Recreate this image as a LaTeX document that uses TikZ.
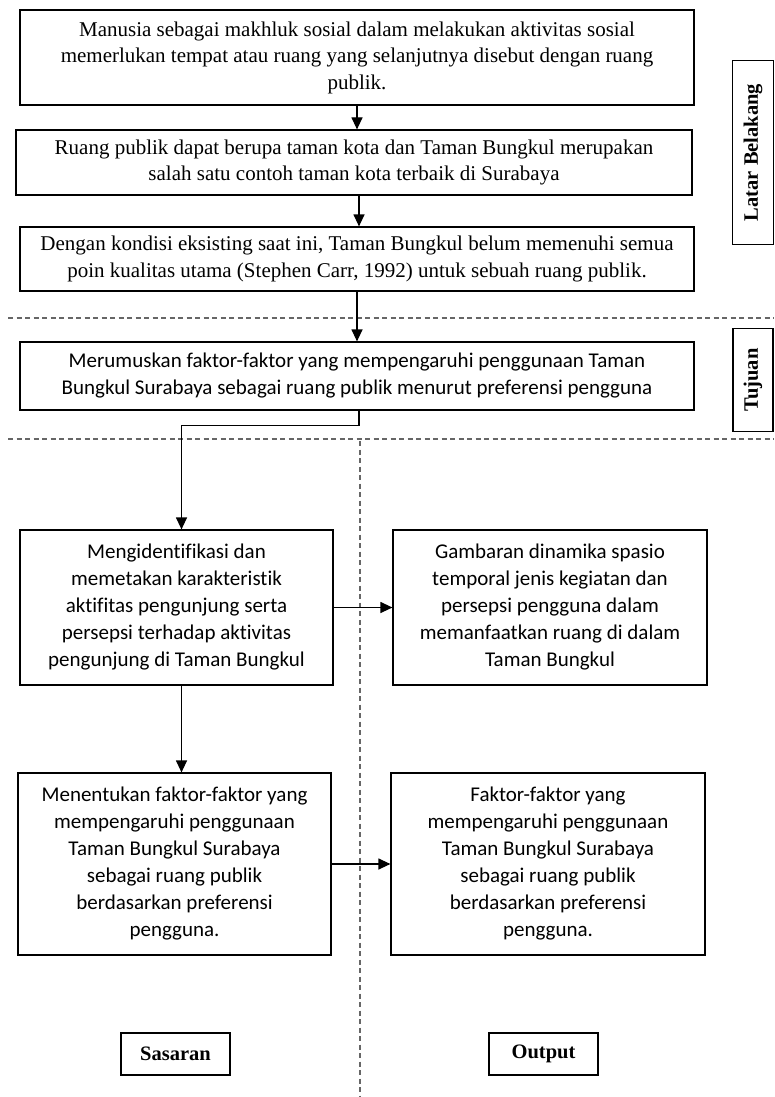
\documentclass[tikz,border=0pt]{standalone}
\usepackage{fontspec}
\setmainfont{Liberation Serif}
\newfontfamily\calibri[Ligatures=CommonOff]{Carlito}
\usetikzlibrary{arrows.meta,positioning,calc}

\begin{document}
\begin{tikzpicture}[x=1pt, y=-1pt,
  tbox/.style={rectangle, draw, line width=1.2pt, align=center, inner sep=0pt, minimum width=#1},
  serif/.style={font=\fontsize{21}{26.5}\selectfont},
  sans/.style={font=\calibri\fontsize{21}{27}\selectfont},
  tagbox/.style={rectangle, draw, line width=1.2pt, inner sep=0pt, font=\bfseries\fontsize{20.5}{24}\selectfont},
  arr/.style={-{Triangle[length=12pt,width=11pt]}, line width=1.2pt},
  garis/.style={dash pattern=on 5pt off 3.5pt, line width=1.1pt, black!60}
]
  \useasboundingbox (0,0) rectangle (774,1097);

  % latar belakang
  \node[tbox=674pt, serif, minimum height=95pt] (box1) at (357,57.5) {Manusia sebagai makhluk sosial dalam melakukan aktivitas sosial\\memerlukan tempat atau ruang yang selanjutnya disebut dengan ruang\\publik.};
  \node[tbox=676pt, serif, minimum height=65pt] (box2) at (354,162.5) {Ruang publik dapat berupa taman kota dan Taman Bungkul merupakan\\salah satu contoh taman kota terbaik di Surabaya};
  \node[tbox=674pt, serif, minimum height=64pt] (box3) at (357,259) {Dengan kondisi eksisting saat ini, Taman Bungkul belum memenuhi semua\\poin kualitas utama (Stephen Carr, 1992) untuk sebuah ruang publik.};

  % tujuan
  \node[tbox=674pt, sans, minimum height=68pt] (box4) at (357,376) {Merumuskan faktor-faktor yang mempengaruhi penggunaan Taman\\Bungkul Surabaya sebagai ruang publik menurut preferensi pengguna};

  % sasaran dan output
  \node[tbox=313pt, sans, minimum height=155pt] (box5) at (176.5,607.5) {Mengidentifikasi dan\\memetakan karakteristik\\aktifitas pengunjung serta\\persepsi terhadap aktivitas\\pengunjung di Taman Bungkul};
  \node[tbox=314pt, sans, minimum height=155pt] (box6) at (550,607.5) {Gambaran dinamika spasio\\temporal jenis kegiatan dan\\persepsi pengguna dalam\\memanfaatkan ruang di dalam\\Taman Bungkul};
  \node[tbox=313pt, sans, minimum height=182pt] (box7) at (174.5,864) {Menentukan faktor-faktor yang\\mempengaruhi penggunaan\\Taman Bungkul Surabaya\\sebagai ruang publik\\berdasarkan preferensi\\pengguna.};
  \node[tbox=314pt, sans, minimum height=182pt] (box8) at (548,864) {Faktor-faktor yang\\mempengaruhi penggunaan\\Taman Bungkul Surabaya\\sebagai ruang publik\\berdasarkan preferensi\\pengguna.};

  % label bagian
  \node[tagbox, rotate=90, minimum width=184pt, minimum height=41pt] (latar) at (753,152.5) {Latar Belakang};
  \node[tagbox, rotate=90, minimum width=103pt, minimum height=40pt] (tujuan) at (753,380) {Tujuan};
  \node[tagbox, minimum width=109pt, minimum height=42pt] (sasaran) at (175.5,1054) {Sasaran};
  \node[tagbox, minimum width=109pt, minimum height=42pt] (output) at (543.5,1054) {Output};

  % garis pemisah
  \draw[garis] (8,318) -- (774,318);
  \draw[garis] (8,439) -- (774,439);
  \draw[garis] (360,441) -- (360,1097);

  % panah
  \draw[arr] (box1.south) -- (box1.south |- box2.north);
  \draw[arr] ($(box2.south)+(5,0)$) -- ($(box3.north)+(2,0)$);
  \draw[arr] (box3.south) -- (box4.north);
  \draw[arr] ($(box4.south)+(2,0)$) -- ++(0,15) -| ($(box5.north)+(5,0)$);
  \draw[arr] ($(box5.south)+(5,0)$) -- ($(box7.north)+(7,0)$);
  \draw[arr] (box5.east) -- (box6.west);
  \draw[arr] (box7.east) -- (box8.west);
\end{tikzpicture}
\end{document}
